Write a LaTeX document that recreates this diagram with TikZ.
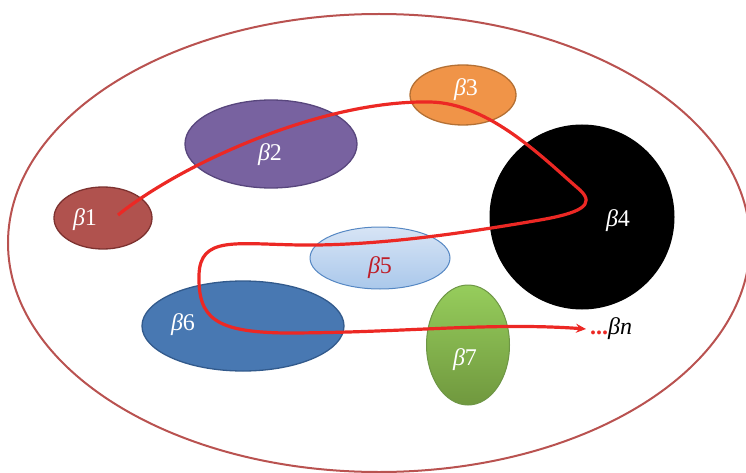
\documentclass[tikz,border=0pt]{standalone}
\usepackage{fontspec}
\setmainfont{Liberation Serif}
\usetikzlibrary{shapes.geometric,arrows.meta}
\definecolor{outerc}{RGB}{185,82,80}
\definecolor{b1f}{RGB}{176,82,78}\definecolor{b1d}{RGB}{125,50,48}
\definecolor{b2f}{RGB}{120,98,160}\definecolor{b2d}{RGB}{88,70,125}
\definecolor{b3f}{RGB}{240,148,72}\definecolor{b3d}{RGB}{180,112,52}
\definecolor{b5t}{RGB}{215,228,245}\definecolor{b5b}{RGB}{170,200,235}\definecolor{b5d}{RGB}{85,135,195}
\definecolor{b6f}{RGB}{72,120,178}\definecolor{b6d}{RGB}{50,90,140}
\definecolor{b7t}{RGB}{150,205,92}\definecolor{b7b}{RGB}{112,152,62}\definecolor{b7d}{RGB}{110,150,70}
\definecolor{pathred}{RGB}{236,40,36}
\definecolor{b5txt}{RGB}{190,30,40}
\begin{document}
\begin{tikzpicture}[x=1pt,y=-1pt,
  blob/.style={ellipse,inner sep=0pt,line width=1.3pt},
  lbl/.style={font=\fontsize{24}{26}\selectfont,text=white,inner sep=0pt}]
\useasboundingbox (0,0) rectangle (746,473);
\node[blob,draw=outerc,line width=2pt,minimum width=742pt,minimum height=458pt] (outer) at (379,243) {};
\node[blob,fill=b2f,draw=b2d,minimum width=172pt,minimum height=88pt] (b2) at (271,144) {};
\node[blob,fill=b3f,draw=b3d,minimum width=106pt,minimum height=60pt] (b3) at (463,95) {};
\node[blob,fill=b1f,draw=b1d,minimum width=98pt,minimum height=62pt] (b1) at (103,218) {};
\node[circle,fill=black,inner sep=0pt,minimum size=185pt] (b4) at (582,217) {};
\node[blob,top color=b5t,bottom color=b5b,draw=b5d,line width=1pt,minimum width=140pt,minimum height=62pt] (b5) at (380,258) {};
\node[blob,fill=b6f,draw=b6d,minimum width=202pt,minimum height=90pt] (b6) at (243,326) {};
\node[blob,top color=b7t,bottom color=b7b,draw=b7d,line width=1pt,minimum width=83pt,minimum height=120pt] (b7) at (468,345) {};
\node[lbl] (t1) at (85,220) {\textit{β}1};
\node[lbl] (t2) at (270,155) {\textit{β}2};
\node[lbl] (t3) at (466,90) {\textit{β}3};
\node[lbl] (t4) at (618,221) {\textit{β}4};
\node[lbl,text=b5txt] (t5) at (380,268) {\textit{β}5};
\node[lbl] (t6) at (183,325) {\textit{β}6};
\node[lbl] (t7) at (465,360) {\textit{β}7};
\node[lbl,text=black,anchor=west] (bn) at (590,329) {\textcolor{pathred}{\textbf{...}}\textit{βn}};
\coordinate (start) at (118,215);
\draw[pathred,line width=3.2pt,-{Stealth[length=10pt,width=9pt]}]
  (start) .. controls (180,165) and (320,100) .. (430,102)
  .. controls (490,103) and (545,160) .. (580,190)
  .. controls (596,205) and (580,213) .. (540,220)
  .. controls (470,232) and (380,246) .. (300,245)
  .. controls (235,244) and (200,236) .. (199,275)
  .. controls (198,318) and (215,332) .. (285,333)
  .. controls (400,333) and (490,322) .. ([xshift=-4pt]bn.west);
\end{tikzpicture}
\end{document}
